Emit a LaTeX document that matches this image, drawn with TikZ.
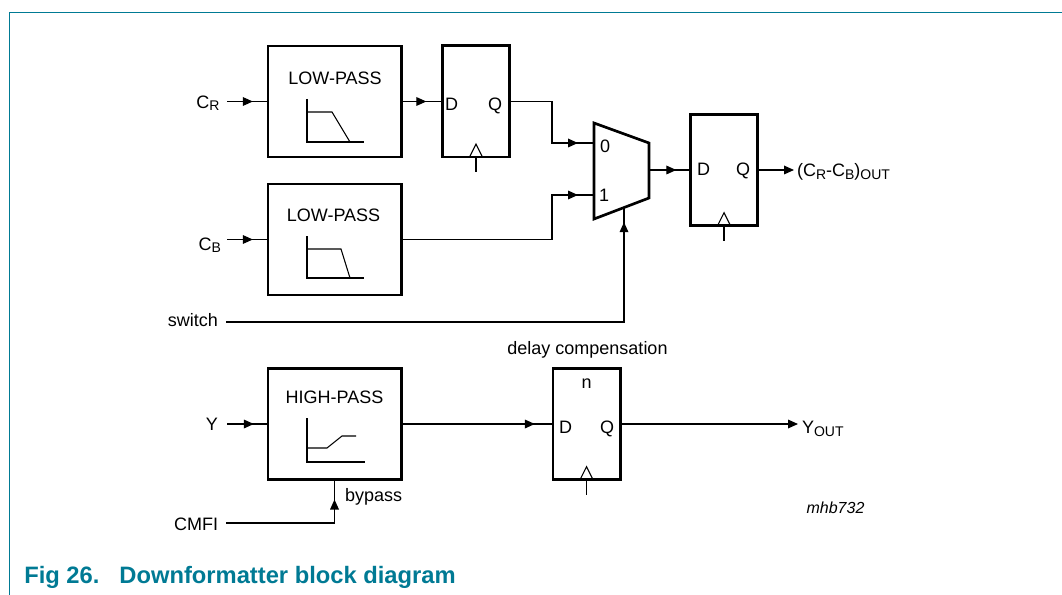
\documentclass[tikz,border=0pt]{standalone}
\usepackage{fontspec}
\setmainfont{Liberation Sans}
\usetikzlibrary{arrows.meta,decorations.markings}
\definecolor{nxp}{RGB}{0,122,148}
\newcommand\mysub[1]{\raisebox{-2pt}{\fontsize{10.5}{12}\selectfont #1}}
\begin{document}
\begin{tikzpicture}[x=0.75pt,y=-0.75pt,
  txt/.style={font=\fontsize{13.5}{16}\selectfont, inner sep=0pt, outer sep=0pt},
  filt/.style={draw, line width=2pt, minimum width=100pt, minimum height=83.25pt, inner sep=0pt, outer sep=0pt},
  dff/.style={draw, line width=2pt, minimum width=50.5pt, minimum height=83.5pt, inner sep=0pt, outer sep=0pt},
  wire/.style={line width=0.9pt},
  icon/.style={line width=0.8pt},
  endarr/.style={wire, -{Triangle[length=7.5pt,width=6.5pt]}},
  midarr/.style={wire, postaction={decorate, decoration={markings, mark=at position -#1 with {\arrow{Triangle[length=7.5pt,width=6.5pt]}}}}}
]
\useasboundingbox (0,0) rectangle (1062,595);
% frame
\draw[nxp, line width=1pt] (1062,12.3) -- (9.3,12.3) -- (9.3,595);

% blocks
\node[filt] (lp1) at (334.5,101.5) {};
\node[filt] (lp2) at (334.5,239.5) {};
\node[filt] (hp)  at (334.5,424) {};
\node[dff] (ff1) at (476,101.5) {};
\node[dff] (ff2) at (724,170) {};
\node[dff] (ff3) at (586.5,424) {};

% mux
\draw[line width=2pt] (594,123) -- (649,143) -- (649,198) -- (594,219) -- cycle;
\coordinate (m0) at (594,143);
\coordinate (m1) at (594,195);
\coordinate (mo) at (649,170);
\coordinate (ms) at (624,207.5);
\node[txt, anchor=base west] (l0) at (600,153) {0};
\node[txt, anchor=base west] (l1) at (599,202) {1};

% block texts
\node[txt, anchor=base] (t1) at (335,85) {LOW-PASS};
\node[txt, anchor=base] (t2) at (333.5,221) {LOW-PASS};
\node[txt, anchor=base] (t3) at (334.5,403.5) {HIGH-PASS};

% filter icons
\draw[icon] (307,99) -- (307,142) -- (364,142);
\draw[icon] (307,112) -- (332,112) -- (350,142);
\draw[icon] (307,236) -- (307,278) -- (364,278);
\draw[icon] (307,249) -- (341,249) -- (350,278);
\draw[icon] (307,418) -- (307,462) -- (365,462);
\draw[icon] (307,448) -- (327,448) -- (342,436) -- (356,436);

% flip-flop texts
\node[txt, anchor=base west] (d1) at (445,111) {D};
\node[txt, anchor=base east] (q1) at (502,111) {Q};
\node[txt, anchor=base west] (d2) at (697,176) {D};
\node[txt, anchor=base east] (q2) at (750,176) {Q};
\node[txt, anchor=base west] (d3) at (559,433.5) {D};
\node[txt, anchor=base east] (q3) at (614,433.5) {Q};
\node[txt, anchor=base] (n3) at (586.5,388) {n};

% clocks
\foreach \f in {ff1,ff2,ff3}{
  \draw[icon] (\f.south) ++(-6.5,0) -- ++(6.5,-13) -- ++(6.5,13);
  \draw[wire] (\f.south) -- ++(0,15);
}

% inputs
\coordinate (cri) at (227,101.5);
\node[txt, anchor=base east] (cr) at (219.5,108.3) {C\mysub{R}};
\draw[midarr=11.25pt] (cri) -- (lp1.west);

\coordinate (cbi) at (227,239.5);
\node[txt, anchor=base east] (cb) at (221,250) {C\mysub{B}};
\draw[midarr=11.25pt] (cbi) -- (lp2.west);

\coordinate (yi) at (227,424);
\node[txt, anchor=base east] (yl) at (218,430) {Y};
\draw[midarr=10.5pt] (yi) -- (hp.west);

\coordinate (swi) at (226,322);
\node[txt, anchor=base east] (sw) at (218,326.7) {switch};
\draw[midarr=11pt] (swi) -| (ms);

\coordinate (cmi) at (226,523);
\node[txt, anchor=base east] (cm) at (218,530.7) {CMFI};
\draw[midarr=15pt] (cmi) -| (hp.south);
\node[txt, anchor=base west] (bp) at (345,501) {bypass};

% internal connections
\draw[midarr=12pt] (lp1.east) -- (ff1.west);
\coordinate (j0) at (552,143);
\coordinate (j1) at (552,195);
\draw[midarr=12pt] (ff1.east) -| (j0) -- (m0);
\draw[midarr=12pt] (lp2.east) -| (j1) -- (m1);
\draw[midarr=10.5pt] (mo) -- (ff2.west);
\draw[midarr=13.5pt] (hp.east) -- (ff3.west);

% outputs
\coordinate (o1) at (794,170);
\draw[endarr] (ff2.east) -- (o1);
\node[txt, anchor=base west] (ol1) at (797,177) {(C\mysub{R}-C\mysub{B})\mysub{OUT}};
\coordinate (o2) at (798,424);
\draw[endarr] (ff3.east) -- (o2);
\node[txt, anchor=base west] (ol2) at (802,433.5) {Y\mysub{OUT}};

% annotations
\node[txt, anchor=base] (dc) at (587.5,354) {delay compensation};
\node[txt, anchor=base, font=\fontsize{12}{14}\selectfont\itshape] (id) at (835.5,513) {mhb732};

% caption
\node[anchor=base west, inner sep=0pt, text=nxp, font=\fontsize{17.8}{22}\selectfont\bfseries] (cap) at (24,583) {Fig 26.\hspace{15pt}Downformatter block diagram};
\end{tikzpicture}
\end{document}
